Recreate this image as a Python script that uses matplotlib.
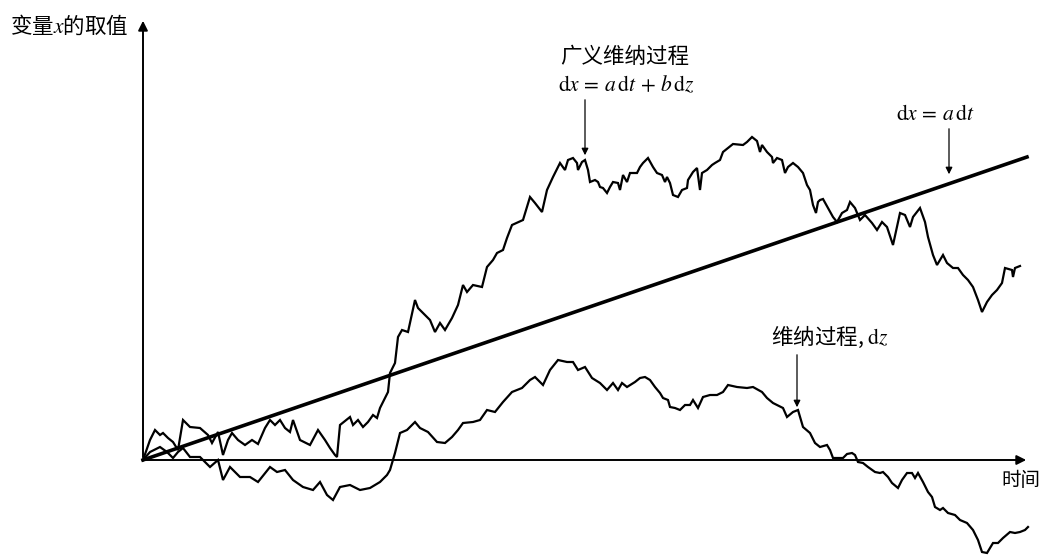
import numpy as np
import matplotlib
matplotlib.use("Agg")
import matplotlib.pyplot as plt

plt.rcParams['font.family'] = ['Noto Sans CJK SC', 'DejaVu Sans']
plt.rcParams['mathtext.fontset'] = 'stix'

# Wiener process dz (time, value)
wiener_t = [0, 7, 17, 24, 30, 35, 40, 47, 57, 67, 75, 80, 87, 97, 107, 115, 127, 134, 142, 150,
            160, 170, 177, 184, 190, 197, 207, 217, 227, 237, 244, 247, 252, 257, 264, 272, 277, 285,
            294, 302, 309, 315, 320, 330, 337, 344, 352, 360, 369, 379, 387, 392, 400, 407, 415, 424,
            430, 435, 442, 449, 457, 464, 470, 475, 479, 484, 492, 497, 502, 507, 512, 517, 520, 525,
            527, 532, 537, 542, 547, 550, 555, 560, 567, 574, 580, 585, 594, 604, 610, 619, 624, 630,
            640, 644, 650, 655, 660, 667, 672, 677, 684, 687, 690, 700, 704, 709, 712, 715, 720, 725,
            732, 737, 740, 745, 749, 755, 759, 764, 769, 772, 775, 780, 785, 789, 792, 797, 800, 805,
            812, 817, 824, 830, 835, 839, 844, 850, 855, 860, 867, 872, 877, 882, 885]
wiener_v = [0, 8, 13, 8, 2, 8, 12, 3, 3, -7, 0, -20, -7, -17, -17, -22, -7, -12, -10, -20,
            -27, -30, -22, -35, -40, -27, -25, -30, -28, -22, -15, -10, 7, 27, 30, 38, 32, 28,
            18, 17, 23, 30, 37, 38, 40, 50, 48, 58, 68, 72, 80, 83, 75, 90, 100, 98,
            98, 90, 93, 82, 77, 70, 77, 70, 77, 73, 78, 82, 83, 80, 73, 67, 62, 60,
            53, 52, 50, 55, 55, 60, 52, 63, 65, 65, 68, 75, 73, 72, 73, 68, 62, 57,
            52, 43, 48, 50, 33, 27, 17, 13, 15, 10, 2, 2, 6, 7, 5, -2, -3, -7,
            -12, -13, -12, -17, -23, -28, -20, -13, -13, -18, -13, -22, -32, -37, -47, -50, -48, -53,
            -55, -60, -63, -70, -80, -92, -93, -83, -83, -78, -72, -73, -72, -70, -67]

# generalized Wiener process dx = a dt + b dz (time, value)
gen_t = [0, 7, 12, 17, 20, 25, 30, 35, 40, 47, 57, 65, 69, 75, 80, 85, 89, 95, 102, 109,
         115, 122, 127, 132, 137, 142, 147, 150, 157, 167, 175, 182, 187, 192, 194, 197, 207, 210,
         215, 220, 225, 230, 234, 237, 242, 245, 247, 252, 255, 259, 265, 272, 275, 282, 287, 292,
         297, 302, 309, 315, 320, 324, 330, 339, 344, 350, 354, 360, 364, 369, 380, 387, 392, 399,
         404, 410, 417, 422, 425, 430, 434, 435, 439, 442, 445, 447, 452, 455, 457, 460, 464, 467,
         470, 475, 477, 480, 484, 487, 494, 497, 500, 505, 510, 514, 519, 522, 524, 527, 530, 535,
         539, 544, 545, 550, 554, 557, 559, 564, 569, 572, 577, 580, 585, 590, 600, 604, 609, 614,
         617, 619, 624, 629, 630, 634, 639, 642, 645, 650, 655, 660, 664, 667, 670, 673, 675, 677,
         680, 685, 690, 694, 699, 704, 707, 712, 717, 722, 729, 734, 739, 744, 750, 757, 762, 767,
         770, 777, 782, 785, 790, 794, 800, 804, 810, 815, 820, 825, 830, 835, 839, 844, 849, 854,
         859, 862, 869, 870, 872, 877]
gen_v = [0, 20, 30, 25, 27, 22, 18, 10, 40, 33, 32, 25, 17, 28, 5, 20, 27, 20, 15, 20,
         16, 32, 40, 35, 40, 32, 28, 40, 20, 15, 30, 20, 12, 5, 3, 35, 43, 35,
         40, 33, 38, 45, 42, 52, 62, 68, 87, 97, 123, 130, 128, 160, 152, 145, 140, 128,
         137, 130, 142, 155, 175, 168, 175, 173, 193, 200, 207, 210, 222, 235, 240, 263, 257, 248,
         270, 283, 297, 290, 300, 302, 297, 290, 298, 300, 290, 278, 280, 278, 273, 272, 267, 273,
         278, 277, 270, 285, 278, 287, 287, 293, 297, 302, 293, 287, 285, 278, 283, 277, 265, 263,
         270, 272, 280, 288, 292, 270, 287, 290, 295, 297, 300, 308, 312, 316, 315, 318, 323, 319,
         308, 315, 308, 303, 297, 302, 300, 287, 293, 297, 293, 287, 275, 270, 255, 247, 258, 260,
         261, 252, 243, 238, 247, 250, 258, 252, 240, 245, 237, 230, 238, 233, 215, 247, 245, 233,
         243, 252, 238, 223, 205, 195, 205, 197, 192, 192, 185, 180, 173, 160, 148, 158, 165, 170,
         177, 192, 190, 183, 192, 194]

# drift dx = a dt
drift_t = [0, 884]
drift_v = [0, 303]

fig = plt.figure(figsize=(10.45, 5.55), dpi=100)
ax = fig.add_axes([0, 0, 1, 1])
ax.set_xlim(-143, 902)
ax.set_ylim(-95, 460)
ax.set_axis_off()

ax.plot(wiener_t, wiener_v, color='black', lw=1.6, solid_joinstyle='miter')
ax.plot(gen_t, gen_v, color='black', lw=1.6, solid_joinstyle='miter')
ax.plot(drift_t, drift_v, color='black', lw=2.6)

# axes with arrow heads
ax.annotate('', xy=(0, 442), xytext=(0, 0),
            arrowprops=dict(arrowstyle='-|>', color='black', lw=1.4, mutation_scale=14))
ax.annotate('', xy=(886, 0), xytext=(0, 0),
            arrowprops=dict(arrowstyle='-|>', color='black', lw=1.4, mutation_scale=14))

ax.text(-15, 434, '变量$x$的取值', fontsize=15.5, ha='right', va='center')
ax.text(878, -20, '时间', fontsize=14, ha='center', va='center')

# labels with pointers
ax.text(482, 403, '广义维纳过程', fontsize=15.5, ha='center', va='center')
ax.text(483, 375, r'$\mathrm{d}x\,=\,a\,\mathrm{d}t\,+\,b\,\mathrm{d}z$', fontsize=15.5,
        ha='center', va='center')
ax.annotate('', xy=(442, 302), xytext=(442, 363),
            arrowprops=dict(arrowstyle='-|>', color='black', lw=0.9, mutation_scale=10))

ax.text(792, 346, r'$\mathrm{d}x\,=\,a\,\mathrm{d}t$', fontsize=15.5, ha='center', va='center')
ax.annotate('', xy=(806, 283), xytext=(806, 334),
            arrowprops=dict(arrowstyle='-|>', color='black', lw=0.9, mutation_scale=10))

ax.text(687, 123, '维纳过程, $\\mathrm{d}z$', fontsize=15.5, ha='center', va='center')
ax.annotate('', xy=(654, 50), xytext=(654, 108),
            arrowprops=dict(arrowstyle='-|>', color='black', lw=0.9, mutation_scale=10))

fig.savefig('out.png', dpi=100)
